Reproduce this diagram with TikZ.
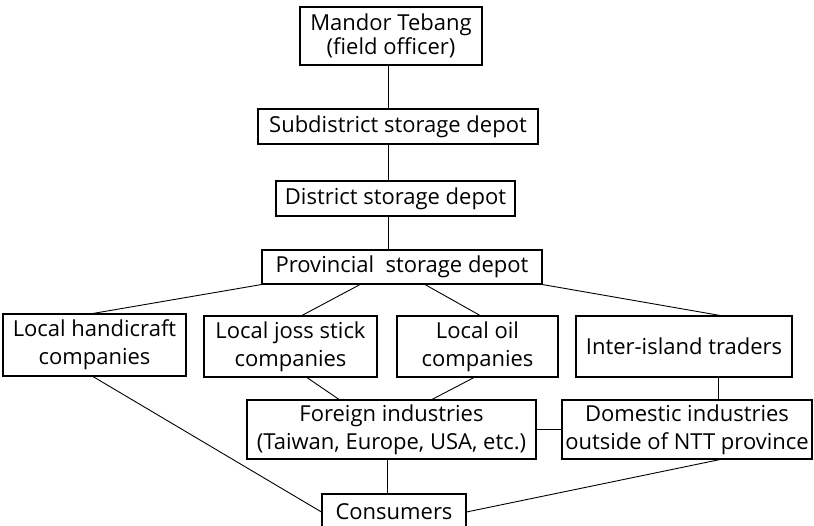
\documentclass[tikz,border=0pt]{standalone}
\usepackage{fontspec}
\setmainfont{Open Sans}
\usepackage{tikz}
\usetikzlibrary{positioning,calc}
\definecolor{chainline}{HTML}{000000}
\tikzset{
  chainbox/.style={draw=chainline,line width=1.1pt,align=center,inner sep=0pt,
                   font=\fontsize{22}{28}\selectfont},
  link/.style={draw=chainline,line width=0.9pt}
}
\begin{document}
\begin{tikzpicture}[x=1pt,y=-1pt]
    \useasboundingbox (0,0) rectangle (814,526);
    \coordinate (spine) at (388,0);

    \node[chainbox,minimum width=182pt,minimum height=58pt,font=\fontsize{22}{23.5}\selectfont] (mandor) at (391,36) {Mandor Tebang\\ (field officer)};
    \node[chainbox,minimum width=280pt,minimum height=35pt] (subdist) at (398,126.5) {Subdistrict storage depot};
    \node[chainbox,minimum width=239pt,minimum height=35pt] (district) at (395.5,198.5) {District storage depot};
    \node[chainbox,minimum width=280pt,minimum height=34pt] (prov) at (402,267) {Provincial\ \ storage depot};

    \node[chainbox,minimum width=183pt,minimum height=62pt] (handi) at (94.5,345) {Local handicraft\\companies};
    \node[chainbox,minimum width=173pt,minimum height=61pt] (joss) at (290.5,346.5) {Local joss stick\\companies};
    \node[chainbox,minimum width=161pt,minimum height=61pt] (oil) at (477.5,346.5) {Local oil\\companies};
    \node[chainbox,minimum width=216pt,minimum height=61pt] (inter) at (684,346.5) {Inter-island traders};

    \node[chainbox,minimum width=289pt,minimum height=59pt] (foreign) at (391.5,429.5) {Foreign industries\\(Taiwan, Europe, USA, etc.)};
    \node[chainbox,minimum width=250pt,minimum height=59pt] (domestic) at (687,429.5) {Domestic industries\\outside of NTT province};
    \node[chainbox,minimum width=144pt,minimum height=36pt] (consumers) at (394,512) {Consumers};

    \draw[link] (mandor.south -| spine) -- (subdist.north -| spine);
    \draw[link] (subdist.south -| spine) -- (district.north -| spine);
    \draw[link] (district.south -| spine) -- (prov.north -| spine);
    \draw[link] (prov.south west) -- ([xshift=-1.5pt]handi.north);
    \draw[link] ([xshift=-42pt]prov.south) -- ([xshift=11.5pt]joss.north);
    \draw[link] ([xshift=23pt]prov.south) -- ([xshift=2.5pt]oil.north);
    \draw[link] (prov.south east) -- ([xshift=36pt]inter.north);
    \draw[link] ([xshift=16.5pt]joss.south) -- ([xshift=-52.5pt]foreign.north);
    \draw[link] ([xshift=-3.5pt]oil.south) -- ([xshift=40.5pt]foreign.north);
    \draw[link] ([xshift=34pt]inter.south) -- ([xshift=31pt]domestic.north);
    \draw[link] (foreign.east) -- (domestic.west);
    \draw[link] ([xshift=-4.5pt]foreign.south) -- ([xshift=-7pt]consumers.north);
    \draw[link] ([xshift=-1.5pt]handi.south) -- (consumers.west);
    \draw[link] ([xshift=33pt]domestic.south) -- (consumers.east);
  \end{tikzpicture}
\end{document}
